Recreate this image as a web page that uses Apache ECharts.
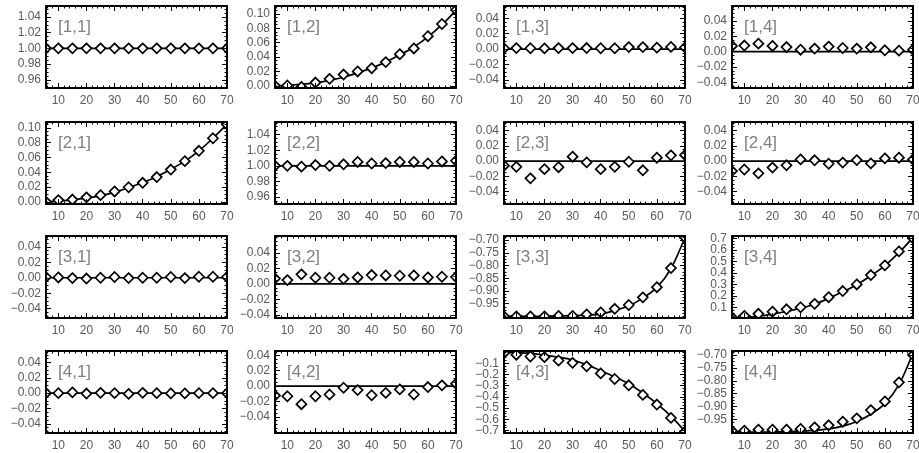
<!DOCTYPE html>
<html>
<head>
<meta charset="utf-8">
<script src="https://cdn.jsdelivr.net/npm/echarts@6/dist/echarts.min.js"></script>
<style>
html,body{margin:0;padding:0;background:#fff;}
#c{width:919px;height:453px;}
</style>
</head>
<body>
<div id="c"></div>
<script>
// ---- data ----
const XS = [5.6, 10, 15, 20, 25, 30, 35, 40, 45, 50, 55, 60, 65, 70];
const X_TICKS = [10, 20, 30, 40, 50, 60, 70];

const PANEL_LABELS = ['[1,1]','[1,2]','[1,3]','[1,4]','[2,1]','[2,2]','[2,3]','[2,4]',
                      '[3,1]','[3,2]','[3,3]','[3,4]','[4,1]','[4,2]','[4,3]','[4,4]'];

const Y_MIN = [0.9495, -0.003, -0.0507, -0.0475,
               -0.003, 0.9513, -0.056, -0.056,
               -0.052, -0.044, -1.006, 0.006,
               -0.052, -0.061, -0.722, -1.003];
const Y_MAX = [1.054, 0.111, 0.056, 0.0597,
               0.108, 1.056, 0.051, 0.051,
               0.054, 0.062, -0.684, 0.724,
               0.055, 0.0455, 0.01, -0.684];

const T_ONE = [0.96, 0.98, 1.00, 1.02, 1.04];
const T_CUBIC = [0.00, 0.02, 0.04, 0.06, 0.08, 0.10];
const T_ZERO = [-0.04, -0.02, 0.00, 0.02, 0.04];
const T_NEG = [-0.95, -0.90, -0.85, -0.80, -0.75, -0.70];
const T_POS1 = [0.1, 0.2, 0.3, 0.4, 0.5, 0.6, 0.7];
const T_NEG1 = [-0.7, -0.6, -0.5, -0.4, -0.3, -0.2, -0.1];
const Y_TICKS = [T_ONE, T_CUBIC, T_ZERO, T_ZERO,
                 T_CUBIC, T_ONE, T_ZERO, T_ZERO,
                 T_ZERO, T_ZERO, T_NEG, T_POS1,
                 T_ZERO, T_ZERO, T_NEG1, T_NEG];
const Y_DEC = [2,2,2,2, 2,2,2,2, 2,2,2,1, 2,2,1,2];

// model curves
const F11 = [1,1,1,1,1,1,1,1,1,1,1,1,1,1];
const F12 = [0.0, 0.0008, 0.002, 0.004, 0.0075, 0.012, 0.018, 0.025, 0.033, 0.043, 0.054, 0.068, 0.085, 0.105];
const F13 = [0,0,0,0,0,0,0,0,0,0,0,0,0,0];
const F14 = [0,0,0,0,0,0,0,0,0,0,0,0,0,0];
const F21 = [0.0, 0.001, 0.0025, 0.005, 0.008, 0.013, 0.019, 0.026, 0.034, 0.044, 0.055, 0.069, 0.086, 0.105];
const F22 = [1,1,1,1,1,1,1,1,1,1,1,1,1,1];
const F23 = [0,0,0,0,0,0,0,0,0,0,0,0,0,0];
const F24 = [0,0,0,0,0,0,0,0,0,0,0,0,0,0];
const F31 = [0,0,0,0,0,0,0,0,0,0,0,0,0,0];
const F32 = [0,0,0,0,0,0,0,0,0,0,0,0,0,0];
const F33 = [-1.0, -1.0, -0.9995, -0.999, -0.998, -0.997, -0.995, -0.99, -0.977, -0.958, -0.928, -0.886, -0.812, -0.688];
const F34 = [0.004, 0.01, 0.022, 0.04, 0.063, 0.092, 0.127, 0.178, 0.235, 0.298, 0.376, 0.465, 0.578, 0.712];
const F41 = [0,0,0,0,0,0,0,0,0,0,0,0,0,0];
const F42 = [0,0,0,0,0,0,0,0,0,0,0,0,0,0];
const F43 = [0.003, -0.004, -0.012, -0.027, -0.045, -0.07, -0.112, -0.165, -0.22, -0.282, -0.365, -0.46, -0.572, -0.71];
const F44 = [-1.0, -1.0, -0.9995, -0.999, -0.998, -0.996, -0.993, -0.987, -0.976, -0.958, -0.93, -0.889, -0.815, -0.69];

// measured points
const P11 = [1,1,1,1,1,1,1,1,1,1,1,1,1,1];
const P12 = [0.0, 0.0005, -0.0015, 0.0046, 0.0097, 0.0157, 0.020, 0.0245, 0.033, 0.044, 0.052, 0.069, 0.086, 0.1055];
const P13 = [0.001, 0.0012, 0.001, 0.0008, 0.0012, 0.0012, 0.0013, 0.001, 0.001, 0.0025, 0.0025, 0.0018, 0.0028, 0.002];
const P14 = [0.0075, 0.008, 0.0105, 0.0075, 0.006, 0.0026, 0.004, 0.0066, 0.0048, 0.004, 0.0057, 0.0018, 0.0013, 0.0026];
const P21 = [0.0, 0.0023, 0.003, 0.006, 0.009, 0.014, 0.0197, 0.0257, 0.0335, 0.0436, 0.055, 0.069, 0.086, 0.1045];
const P22 = [1.0, 1.0, 0.999, 1.001, 1.0, 1.002, 1.005, 1.003, 1.0035, 1.005, 1.005, 1.003, 1.0056, 1.0065];
const P23 = [-0.006, -0.0075, -0.0225, -0.0105, -0.008, 0.0057, -0.0017, -0.0105, -0.0075, -0.0009, -0.012, 0.0044, 0.0075, 0.008];
const P24 = [-0.013, -0.011, -0.016, -0.0085, -0.0055, 0.0022, 0.001, -0.0035, -0.002, 0.0013, -0.003, 0.0035, 0.0044, 0.002];
const P31 = [0.001, 0.0004, -0.0004, -0.001, 0.0, 0.001, -0.0004, 0.0, 0.0, 0.001, -0.0004, 0.0013, 0.0013, 0.001];
const P32 = [0.007, 0.005, 0.0124, 0.008, 0.008, 0.0066, 0.0084, 0.0115, 0.011, 0.0106, 0.011, 0.0084, 0.0093, 0.009];
const P33 = [-1.0, -1.0, -1.0, -1.0, -0.998, -0.998, -0.992, -0.984, -0.970, -0.955, -0.925, -0.885, -0.81, -0.69];
const P34 = [0.012, 0.025, 0.043, 0.061, 0.082, 0.1, 0.13, 0.188, 0.242, 0.30, 0.382, 0.467, 0.589, 0.704];
const P41 = [0.0, 0.0, 0.001, -0.0005, 0.0004, 0.0, -0.001, 0.0004, 0.0, -0.0003, -0.0003, 0.0, 0.0, 0.0];
const P42 = [-0.0124, -0.0133, -0.0236, -0.0133, -0.011, -0.0022, -0.0053, -0.012, -0.0089, -0.0044, -0.011, -0.0013, 0.0009, 0.003];
const P43 = [-0.008, -0.023, -0.039, -0.045, -0.075, -0.096, -0.127, -0.19, -0.24, -0.296, -0.382, -0.468, -0.587, -0.71];
const P44 = [-0.995, -0.994, -0.99, -0.99, -0.99, -0.987, -0.981, -0.973, -0.959, -0.946, -0.914, -0.88, -0.806, -0.70];

const FITS = [F11,F12,F13,F14,F21,F22,F23,F24,F31,F32,F33,F34,F41,F42,F43,F44];
const PTS  = [P11,P12,P13,P14,P21,P22,P23,P24,P31,P32,P33,P34,P41,P42,P43,P44];

// ---- layout ----
const GRID_LEFT = [46, 275, 504, 732];
const GRID_TOP = [6, 122, 236, 351];
const GRID_W = 181, GRID_H = 82;
const FONT = 'Liberation Sans, Arial, sans-serif';
const LABEL_COLOR = '#5a5a5a';

function minorTicks(majors, lo, hi, sub) {
  const step = (majors[1] - majors[0]) / sub;
  const out = [];
  let start = majors[0];
  while (start - step >= lo) start -= step;
  for (let v = start; v <= hi + 1e-12; v += step) {
    let isMajor = majors.some(m => Math.abs(m - v) < step * 0.01);
    if (!isMajor && v >= lo && v <= hi) out.push(+v.toFixed(6));
  }
  return out;
}

const grids = [], xAxes = [], yAxes = [], series = [], titles = [], masks = [];
const X_MINOR = minorTicks(X_TICKS, XS[0], 70, 5);

for (let i = 0; i < 16; i++) {
  const r = Math.floor(i / 4), c = i % 4;
  const L = GRID_LEFT[c], T = GRID_TOP[r];
  grids.push({left: L, top: T, width: GRID_W, height: GRID_H,
              containLabel: false, outerBoundsMode: 'none'});
  // white frame just outside each plot box so edge symbols look clipped by the box
  const m = 8;
  [[L - m, T - m, m - 1, GRID_H + 2 * m], [L + GRID_W + 1, T - m, m - 1, GRID_H + 2 * m],
   [L - m, T - m, GRID_W + 2 * m, m - 1], [L - m, T + GRID_H + 1, GRID_W + 2 * m, m - 1]]
    .forEach(s => masks.push({type: 'rect', z: 4, silent: true,
      shape: {x: s[0], y: s[1], width: s[2], height: s[3]}, style: {fill: '#fff'}}));

  const lineStyle = {color: '#000', width: 2};
  const baseX = {gridIndex: i, type: 'value', min: XS[0], max: 70, z: 5,
                 splitLine: {show: false}};
  xAxes.push(Object.assign({}, baseX, {position: 'bottom',
    axisLine: {show: true, onZero: false, lineStyle},
    axisTick: {show: true, inside: true, length: 5, customValues: X_TICKS, lineStyle: {color: '#000', width: 1}},
    axisLabel: {show: true, customValues: X_TICKS, color: LABEL_COLOR, fontSize: 12, fontFamily: FONT, margin: 7,
      showMinLabel: true, showMaxLabel: true, hideOverlap: false}}));
  xAxes.push(Object.assign({}, baseX, {position: 'bottom',
    axisLine: {show: false, onZero: false},
    axisTick: {show: true, inside: true, length: 2.5, customValues: X_MINOR, lineStyle: {color: '#000', width: 1}},
    axisLabel: {show: false}}));
  xAxes.push(Object.assign({}, baseX, {position: 'top',
    axisLine: {show: true, onZero: false, lineStyle},
    axisTick: {show: true, inside: true, length: 5, customValues: X_TICKS, lineStyle: {color: '#000', width: 1}},
    axisLabel: {show: false}}));
  xAxes.push(Object.assign({}, baseX, {position: 'top',
    axisLine: {show: false, onZero: false},
    axisTick: {show: true, inside: true, length: 2.5, customValues: X_MINOR, lineStyle: {color: '#000', width: 1}},
    axisLabel: {show: false}}));

  const yt = Y_TICKS[i], dec = Y_DEC[i];
  // split labels over two axes so dense neighbours are never auto-hidden
  const ytEven = yt.filter((v, k) => k % 2 === 0);
  const ytOdd = yt.filter((v, k) => k % 2 === 1);
  const yMinor = minorTicks(yt, Y_MIN[i], Y_MAX[i], 4);
  const fmt = (v) => (+v).toFixed(dec).replace('-', '\u2212');
  const yLabel = (vals) => ({show: true, customValues: vals, color: LABEL_COLOR, fontSize: 12,
      fontFamily: FONT, margin: 5, showMinLabel: true, showMaxLabel: true, hideOverlap: false, formatter: fmt});
  const baseY = {gridIndex: i, type: 'value', min: Y_MIN[i], max: Y_MAX[i], z: 5,
                 splitLine: {show: false}, scale: true};
  yAxes.push(Object.assign({}, baseY, {position: 'left',
    axisLine: {show: true, onZero: false, lineStyle},
    axisTick: {show: true, inside: true, length: 5, customValues: yt, lineStyle: {color: '#000', width: 1}},
    axisLabel: yLabel(ytEven)}));
  yAxes.push(Object.assign({}, baseY, {position: 'left',
    axisLine: {show: false, onZero: false},
    axisTick: {show: true, inside: true, length: 2.5, customValues: yMinor, lineStyle: {color: '#000', width: 1}},
    axisLabel: yLabel(ytOdd)}));
  yAxes.push(Object.assign({}, baseY, {position: 'right',
    axisLine: {show: true, onZero: false, lineStyle},
    axisTick: {show: true, inside: true, length: 5, customValues: yt, lineStyle: {color: '#000', width: 1}},
    axisLabel: {show: false}}));
  yAxes.push(Object.assign({}, baseY, {position: 'right',
    axisLine: {show: false, onZero: false},
    axisTick: {show: true, inside: true, length: 2.5, customValues: yMinor, lineStyle: {color: '#000', width: 1}},
    axisLabel: {show: false}}));

  series.push({type: 'line', xAxisIndex: 4 * i, yAxisIndex: 4 * i,
    data: XS.map((x, k) => [x, FITS[i][k]]), smooth: 0.35, showSymbol: false, symbol: 'none',
    lineStyle: {color: '#000', width: 1.7}, z: 2, silent: true});
  series.push({type: 'scatter', xAxisIndex: 4 * i, yAxisIndex: 4 * i,
    data: XS.map((x, k) => [x, PTS[i][k]]), symbol: 'diamond', symbolSize: [10, 10],
    itemStyle: {color: '#fff', borderColor: '#000', borderWidth: 1.7, opacity: 1}, z: 3, silent: true});

  titles.push({text: PANEL_LABELS[i], left: L + 12, top: T + 13,
    padding: 0, textStyle: {fontSize: 17, fontWeight: 'normal', color: '#808080', fontFamily: FONT}});
}

const chart = echarts.init(document.getElementById('c'), null, {renderer: 'canvas'});
chart.setOption({
  animation: false,
  backgroundColor: '#fff',
  title: titles,
  grid: grids,
  xAxis: xAxes,
  yAxis: yAxes,
  series: series,
  graphic: {elements: masks}
});
</script>
</body>
</html>
